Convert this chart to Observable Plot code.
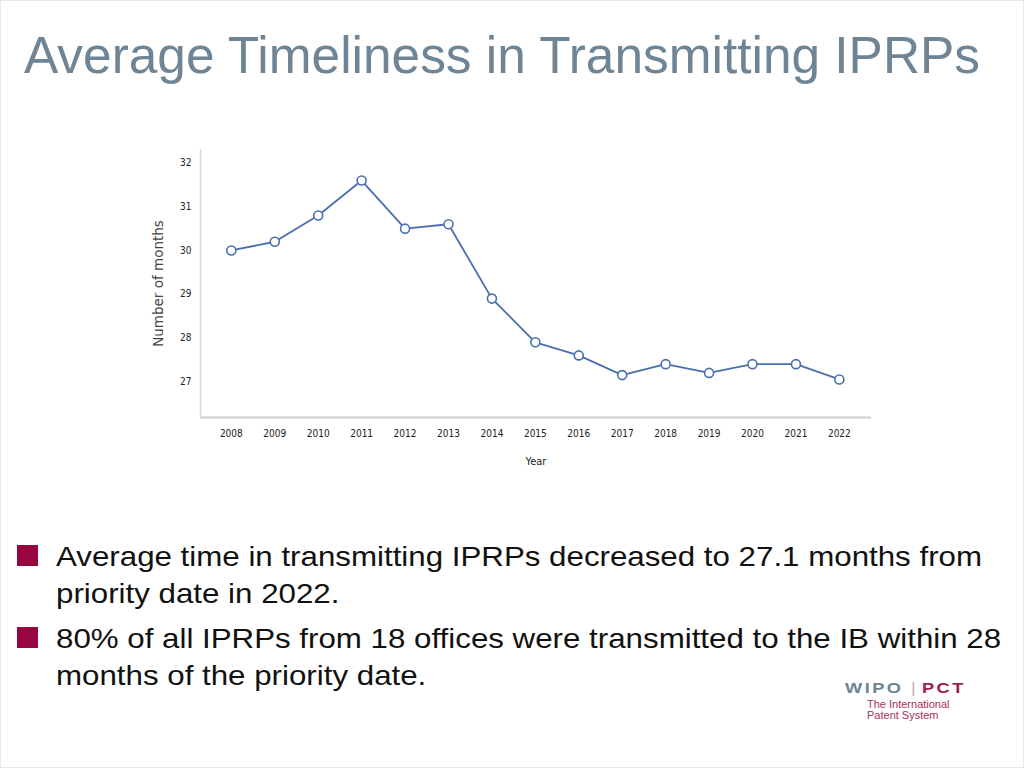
<!DOCTYPE html>
<html>
<head>
<meta charset="utf-8">
<script src="https://cdn.jsdelivr.net/npm/d3@7"></script>
<script src="https://cdn.jsdelivr.net/npm/@observablehq/plot@0.6"></script>
<style>
  html, body { margin: 0; padding: 0; background: #fff; }
  #page { position: relative; width: 1024px; height: 768px; box-sizing: border-box; border: 1px solid #e8e8e8; overflow: hidden; font-family: "Liberation Sans", Arial, sans-serif; }
  #title { position: absolute; left: 23px; top: 24px; font-size: 52px; color: #6f8596; white-space: nowrap; transform-origin: 0 0; }
  #chart { position: absolute; left: 140px; top: 140px; }
  .bullets { position: absolute; left: 0; top: 537px; width: 1024px; }
  .item { position: relative; padding-left: 55px; font-size: 28px; line-height: 37px; color: #111; margin-bottom: 8px; }
  .item .ln { display: block; white-space: nowrap; transform-origin: 0 0; width: max-content; }
  .item .sq { position: absolute; left: 16px; top: 7px; width: 21px; height: 21px; background: #98063f; }
  .logo { position: absolute; font-weight: bold; font-size: 14px; line-height: 14px; letter-spacing: 1.9px; white-space: nowrap; transform-origin: 0 0; transform: scaleX(1.3); }
  .sub { position: absolute; left: 866px; top: 698px; font-size: 11px; line-height: 10.5px; color: #a8325a; white-space: nowrap; }
</style>
</head>
<body>
<div id="page">
  <div id="title">Average Timeliness in Transmitting IPRPs</div>
  <div id="chart"></div>
  <div class="bullets">
    <div class="item"><span class="sq"></span><span class="ln">Average time in transmitting IPRPs decreased to 27.1 months from</span><span class="ln">priority date in 2022.</span></div>
    <div class="item"><span class="sq"></span><span class="ln">80% of all IPRPs from 18 offices were transmitted to the IB within 28</span><span class="ln">months of the priority date.</span></div>
  </div>
  <div class="logo" style="left:844px; top:680px; color:#6b8395;">WIPO</div>
  <div class="logo" style="left:910px; top:680px; color:#c4aab3; font-weight:normal; letter-spacing:0;">|</div>
  <div class="logo" style="left:921px; top:680px; color:#a01c48;">PCT</div>
  <div class="sub">The International<br>Patent System</div>
</div>
<script>
const years = [2008, 2009, 2010, 2011, 2012, 2013, 2014, 2015, 2016, 2017, 2018, 2019, 2020, 2021, 2022];
const months = [30.0, 30.2, 30.8, 31.6, 30.5, 30.6, 28.9, 27.9, 27.6, 27.15, 27.4, 27.2, 27.4, 27.4, 27.05];
const yTicks = [27, 28, 29, 30, 31, 32];
const xLabel = "Year";
const yLabel = "Number of months";

const data = years.map((y, i) => ({year: y, value: months[i]}));
const xDomain = [2007.29, 2022.74];
const yDomain = [26.18, 32.31];
const tickFont = "'DejaVu Sans Condensed', 'DejaVu Sans', sans-serif";
const lineColor = "#4a6fae";

const chart = Plot.plot({
  width: 740,
  height: 340,
  marginLeft: 59,
  marginRight: 10,
  marginTop: 8,
  marginBottom: 64,
  style: {fontFamily: tickFont, fontSize: "10px", color: "#222", background: "transparent"},
  x: {domain: xDomain, ticks: years, tickFormat: d => String(d), tickSize: 0, tickPadding: 12, label: null},
  y: {domain: yDomain, ticks: yTicks, tickFormat: d => String(d), tickSize: 0, tickPadding: 9, label: null},
  marks: [
    Plot.ruleY([yDomain[0]], {stroke: "#d6d6d6", strokeWidth: 2.5}),
    Plot.ruleX([xDomain[0]], {stroke: "#d6d6d6", strokeWidth: 1.5}),
    Plot.line(data, {x: "year", y: "value", stroke: lineColor, strokeWidth: 1.8}),
    Plot.dot(data, {x: "year", y: "value", r: 4.5, stroke: lineColor, strokeWidth: 1.6, fill: "white"}),
    Plot.text([xLabel], {frameAnchor: "bottom", dy: 47, fontSize: 11, fill: "#222", fontFamily: tickFont}),
    Plot.text([yLabel], {frameAnchor: "left", textAnchor: "middle", dx: -42, rotate: -90, fontSize: 13.5, fill: "#444", fontFamily: "'DejaVu Sans', sans-serif"})
  ]
});
document.getElementById("chart").appendChild(chart);

// fit title to its reference width
const t = document.getElementById("title");
t.style.transform = `scaleX(${956 / t.getBoundingClientRect().width})`;

// stretch bullet lines horizontally to the reference's letter width
const lines = document.querySelectorAll(".item .ln");
const s = 926 / lines[0].getBoundingClientRect().width;
lines.forEach(l => l.style.transform = `scaleX(${s})`);
</script>
</body>
</html>
